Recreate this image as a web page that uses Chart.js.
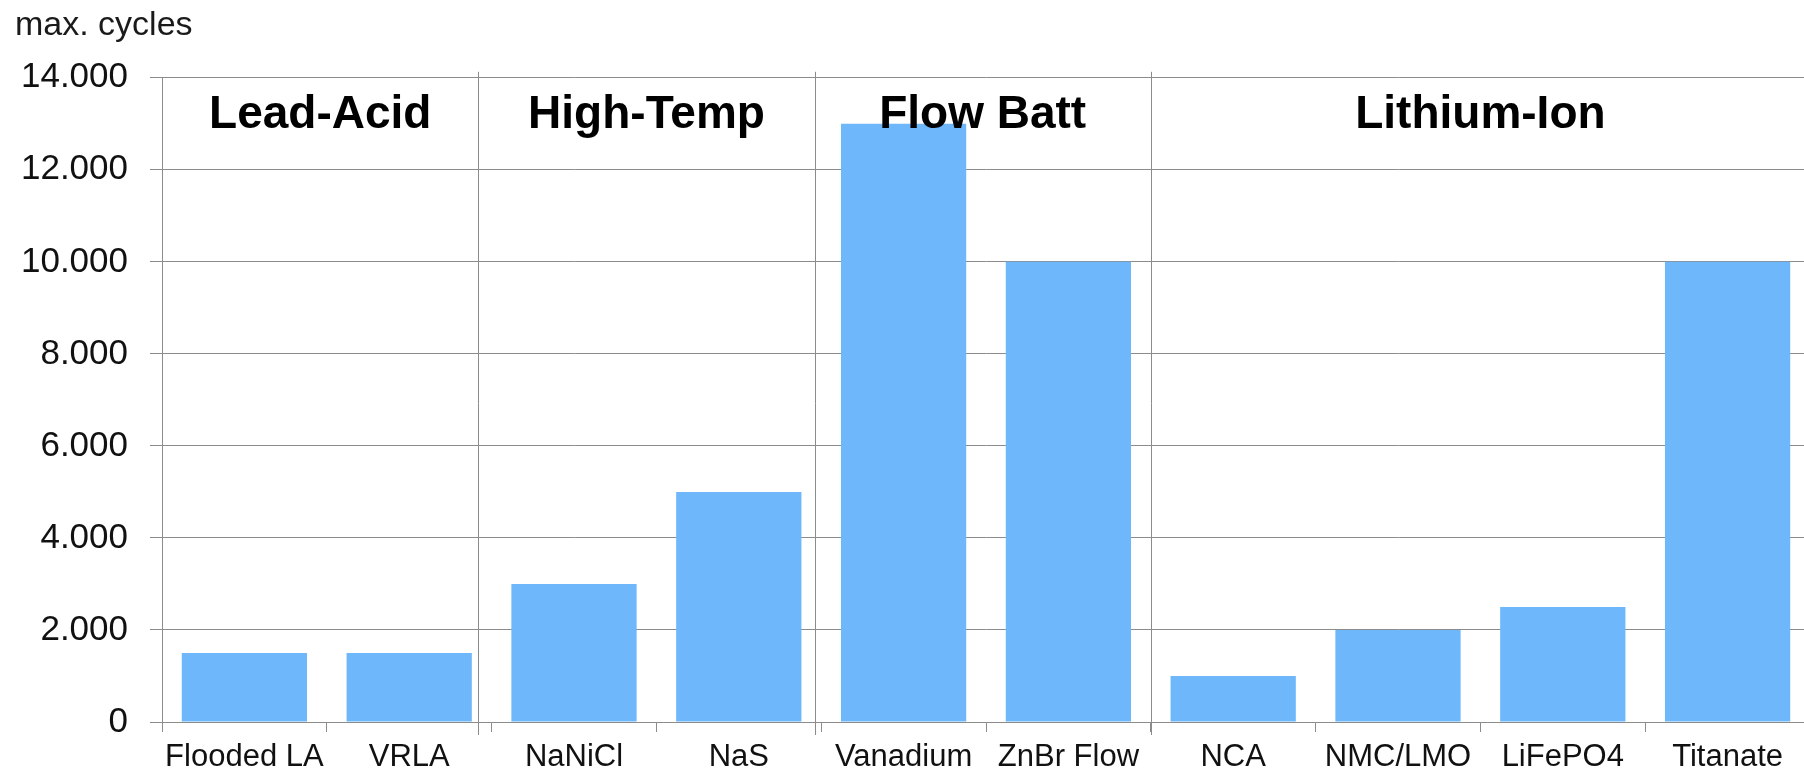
<!DOCTYPE html>
<html>
<head>
<meta charset="utf-8">
<title>Battery cycle life</title>
<script src="https://cdn.jsdelivr.net/npm/chart.js@4.4.1/dist/chart.umd.min.js"></script>
<style>
  html, body { margin: 0; padding: 0; background: #ffffff; overflow: hidden; }
  #wrap { position: absolute; left: 0; top: 0; width: 1810px; height: 772px; }
</style>
</head>
<body>
<div id="wrap"><canvas id="chart"></canvas></div>
<script>
// Battery technologies and their maximum cycle counts
const categories = ['Flooded LA', 'VRLA', 'NaNiCl', 'NaS', 'Vanadium', 'ZnBr Flow', 'NCA', 'NMC/LMO', 'LiFePO4', 'Titanate'];
const maxCycles = [1500, 1500, 3000, 5000, 13000, 10000, 1000, 2000, 2500, 10000];

// Value axis ticks
const yTickValues = [0, 2000, 4000, 6000, 8000, 10000, 12000, 14000];

// Technology families; edges are given in category-index units
const groupNames = ['Lead-Acid', 'High-Temp', 'Flow Batt', 'Lithium-Ion'];
const groupEdges = [-0.5, 1.42, 3.46, 5.5, 9.5];

const gridColor = '#8c8c8c';
const barColor = '#6db7fa';
const textColor = '#111111';

Chart.defaults.font.family = "'Liberation Sans', Arial, Helvetica, sans-serif";

// thousands separator with a dot, e.g. 12.000
function formatThousands(v) {
  return String(v).replace(/\B(?=(\d{3})+(?!\d))/g, '.');
}

// Vertical separators between families and bold family captions
const groupPlugin = {
  id: 'techGroups',
  beforeDatasetsDraw(chart) {
    const { ctx, chartArea, scales: { x } } = chart;
    ctx.save();
    ctx.strokeStyle = gridColor;
    ctx.lineWidth = 1;
    groupEdges.slice(1, -1).forEach(edge => {
      const px = Math.round(x.getPixelForValue(edge)) + 0.5;
      ctx.beginPath();
      ctx.moveTo(px, chartArea.top - 6);
      ctx.lineTo(px, chartArea.bottom + 13);
      ctx.stroke();
    });
    ctx.restore();
  },
  afterDatasetsDraw(chart) {
    const { ctx, chartArea, scales: { x } } = chart;
    ctx.save();
    ctx.fillStyle = '#000000';
    ctx.font = "bold 46px 'Liberation Sans', Arial, sans-serif";
    ctx.textAlign = 'center';
    ctx.textBaseline = 'alphabetic';
    groupNames.forEach((name, i) => {
      const cx = (x.getPixelForValue(groupEdges[i]) + x.getPixelForValue(groupEdges[i + 1])) / 2;
      ctx.fillText(name, cx, chartArea.top + 50);
    });
    ctx.restore();
  }
};

new Chart(document.getElementById('chart'), {
  type: 'bar',
  data: {
    labels: categories,
    datasets: [{
      label: 'max. cycles',
      data: maxCycles,
      backgroundColor: barColor,
      borderWidth: 0,
      barPercentage: 0.76,
      categoryPercentage: 1.0
    }]
  },
  options: {
    responsive: true,
    maintainAspectRatio: false,
    animation: false,
    layout: { padding: { left: 15, right: 0, top: 0, bottom: 0 } },
    plugins: {
      legend: { display: false },
      tooltip: { enabled: false },
      title: {
        display: true,
        text: 'max. cycles',
        align: 'start',
        color: '#1a1a1a',
        font: { size: 34, weight: 'normal' },
        padding: { top: 5, bottom: 32 }
      }
    },
    scales: {
      x: {
        offset: true,
        grid: { offset: true, drawOnChartArea: false, drawTicks: true, tickLength: 10, color: gridColor },
        border: { color: gridColor },
        ticks: { color: textColor, font: { size: 31 }, padding: 7, maxRotation: 0, autoSkip: false },
        afterFit(scale) { scale.height = 50; }
      },
      y: {
        min: 0,
        max: 14000,
        afterBuildTicks(scale) { scale.ticks = yTickValues.map(v => ({ value: v })); },
        grid: { color: gridColor, tickLength: 12 },
        border: { color: gridColor },
        ticks: { color: textColor, font: { size: 35 }, padding: 22, callback: v => formatThousands(v) },
        afterFit(scale) { scale.width = 147; }
      }
    }
  },
  plugins: [groupPlugin]
});
</script>
</body>
</html>
